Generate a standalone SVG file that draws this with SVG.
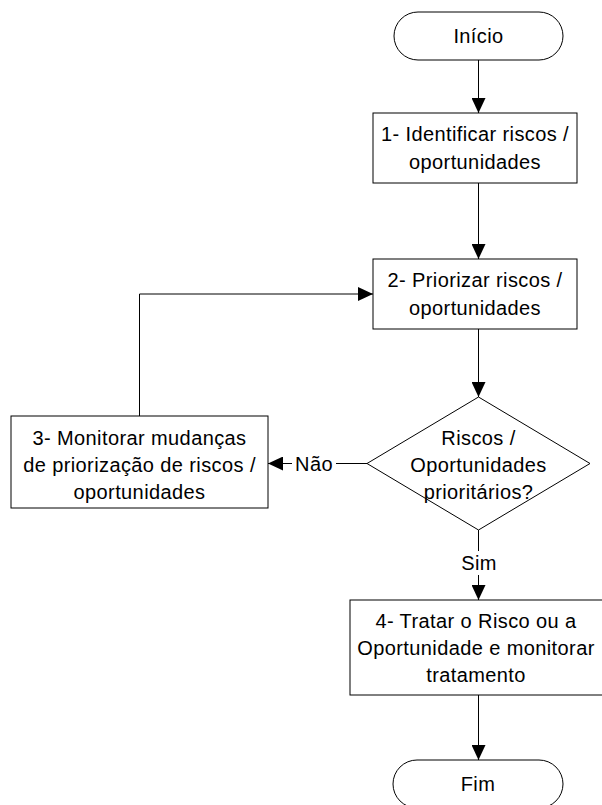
<svg xmlns="http://www.w3.org/2000/svg" width="602" height="805" viewBox="0 0 602 805">
<style>
.s{fill:#fff;stroke:#000;stroke-width:1}
.c{fill:none;stroke:#000;stroke-width:1;marker-end:url(#ah)}
text{font-family:"Liberation Sans",Arial,sans-serif;font-size:20px;fill:#000;text-anchor:middle;letter-spacing:0.4px}
.bg{fill:#fff;stroke:none}
</style>
<defs>
<marker id="ah" markerUnits="userSpaceOnUse" markerWidth="15" markerHeight="14" refX="15" refY="7" orient="auto">
<path d="M0,0 L15,7 L0,14 z" fill="#000"/>
</marker>
</defs>
<rect width="602" height="805" fill="#fff"/>
<g id="connectors">
<line class="c" x1="478.5" y1="60" x2="478.5" y2="113"/>
<line class="c" x1="478.5" y1="183" x2="478.5" y2="259"/>
<line class="c" x1="478.5" y1="329" x2="478.5" y2="397"/>
<line class="c" x1="367" y1="463.5" x2="268" y2="463.5"/>
<rect class="bg" x="292" y="452" width="44" height="24"/>
<text x="314" y="470.5">Não</text>
<line class="c" x1="478.5" y1="530" x2="478.5" y2="600"/>
<rect class="bg" x="460" y="551" width="38" height="24"/>
<text x="479" y="570">Sim</text>
<polyline class="c" points="139.5,416 139.5,294 373,294"/>
<line class="c" x1="478.5" y1="695" x2="478.5" y2="760"/>
</g>
<g id="inicio">
<rect class="s" x="394" y="12" width="169" height="48" rx="24" ry="24"/>
<text x="478.5" y="43">Início</text>
</g>
<g id="step1">
<rect class="s" x="373" y="113" width="204" height="70"/>
<text x="475" y="141">1- Identificar riscos /</text>
<text x="475" y="168.5">oportunidades</text>
</g>
<g id="step2">
<rect class="s" x="373" y="259" width="204" height="70"/>
<text x="475" y="287">2- Priorizar riscos /</text>
<text x="475" y="314.5">oportunidades</text>
</g>
<g id="decision">
<polygon class="s" points="478.5,397 590,463.5 478.5,530 367,463.5"/>
<text x="478.5" y="445">Riscos /</text>
<text x="478.5" y="472">Oportunidades</text>
<text x="478.5" y="499">prioritários?</text>
</g>
<g id="step3">
<rect class="s" x="11" y="416" width="257" height="92"/>
<text x="139.5" y="444.5">3- Monitorar mudanças</text>
<text x="139.5" y="471.5">de priorização de riscos /</text>
<text x="139.5" y="498.5">oportunidades</text>
</g>
<g id="step4">
<rect class="s" x="350" y="600" width="256" height="95"/>
<text x="476" y="628">4- Tratar o Risco ou a</text>
<text x="476" y="655">Oportunidade e monitorar</text>
<text x="476" y="682">tratamento</text>
</g>
<g id="fim">
<rect class="s" x="393" y="760" width="170" height="48" rx="24" ry="24"/>
<text x="478" y="791">Fim</text>
</g>
</svg>
